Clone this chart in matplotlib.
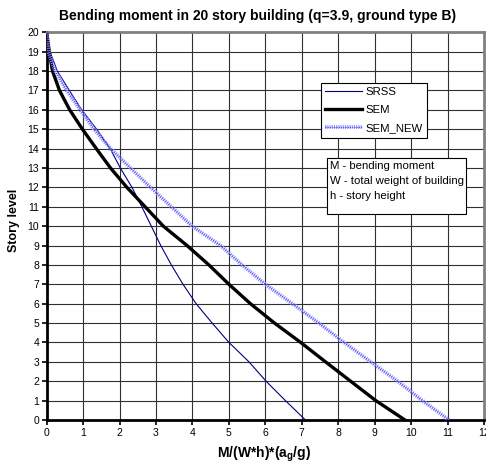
import matplotlib
matplotlib.use("Agg")
import matplotlib.pyplot as plt
import matplotlib.patheffects as pe
from matplotlib.patches import Rectangle

plt.rcParams['font.family'] = ['Liberation Sans', 'DejaVu Sans']

# story levels 0..20
levels = list(range(0, 21))
srss = [7.10, 6.55, 6.02, 5.55, 5.00, 4.54, 4.10, 3.74, 3.42, 3.13, 2.87,
        2.61, 2.34, 2.02, 1.74, 1.37, 0.96, 0.62, 0.29, 0.09, 0.0]
sem = [9.83, 9.03, 8.34, 7.65, 6.97, 6.25, 5.59, 5.00, 4.45, 3.85, 3.20,
       2.70, 2.20, 1.75, 1.36, 0.98, 0.63, 0.35, 0.16, 0.07, 0.0]
sem_new = [11.04, 10.31, 9.63, 8.89, 8.16, 7.47, 6.74, 6.00, 5.36, 4.77, 3.99,
           3.42, 2.85, 2.30, 1.75, 1.30, 0.92, 0.55, 0.23, 0.05, 0.0]
notes = ['M - bending moment', 'W - total weight of building', 'h - story height']

fig = plt.figure(figsize=(4.86, 4.63), dpi=100)
ax = fig.add_axes([0.0961, 0.0929, 0.8998, 0.8374])

# grid
for k in range(1, 20):
    ax.axhline(k, color='#303030', lw=0.8, zorder=1)
for k in range(1, 12):
    ax.axvline(k, color='#303030', lw=0.8, zorder=1)

ax.plot(srss, levels, color='#000080', lw=0.8, label='SRSS', zorder=3)
ax.plot(sem, levels, color='black', lw=2.4, label='SEM', zorder=3)
ax.plot(sem_new, levels, color='#4a4aff', lw=0.8, ls=(0, (1, 1)), label='SEM_NEW', zorder=3,
        path_effects=[pe.Stroke(linewidth=2.8, foreground='#8e8eff'), pe.Normal()])

ax.set_xlim(0, 12)
ax.set_ylim(0, 20)
ax.set_xticks(range(0, 13))
ax.set_yticks(range(0, 21))
ax.tick_params(labelsize=7.5, length=3.5, width=1.2, direction='out', colors='black', pad=2)

for s in ['top', 'right']:
    ax.spines[s].set_color('#808080')
    ax.spines[s].set_linewidth(2)
for s in ['left', 'bottom']:
    ax.spines[s].set_color('black')
    ax.spines[s].set_linewidth(2)

fig.text(258 / 486, 1 - 16 / 463, 'Bending moment in 20 story building (q=3.9, ground type B)',
         fontsize=10, fontweight='bold', ha='center', va='center')
ax.set_xlabel('M/(W*h)*(a$_\\mathregular{g}$/g)', fontsize=10, fontweight='bold')
ax.xaxis.set_label_coords(0.497, -0.063)
ax.set_ylabel('Story level', fontsize=9, fontweight='bold')
ax.yaxis.set_label_coords(-0.060, 0.516)

leg = ax.legend(loc='upper left', bbox_to_anchor=(0.6273, 0.8692), fontsize=8.2,
                frameon=True, fancybox=False, edgecolor='black', framealpha=1,
                handlelength=3.25, handletextpad=0.26, borderpad=0.38, labelspacing=0.7,
                borderaxespad=0)
leg.get_frame().set_linewidth(0.8)
leg.set_zorder(5)

# note box
ax.add_patch(Rectangle((0.640, 0.5306), 0.3179, 0.146, transform=ax.transAxes,
                       facecolor='white', edgecolor='black', lw=0.8, zorder=5))
for i, line in enumerate(notes):
    ax.text(0.648, 0.6551 - i * 0.0387, line, transform=ax.transAxes, fontsize=8.2,
            va='center', ha='left', zorder=6)

fig.savefig('out.png', dpi=100)
